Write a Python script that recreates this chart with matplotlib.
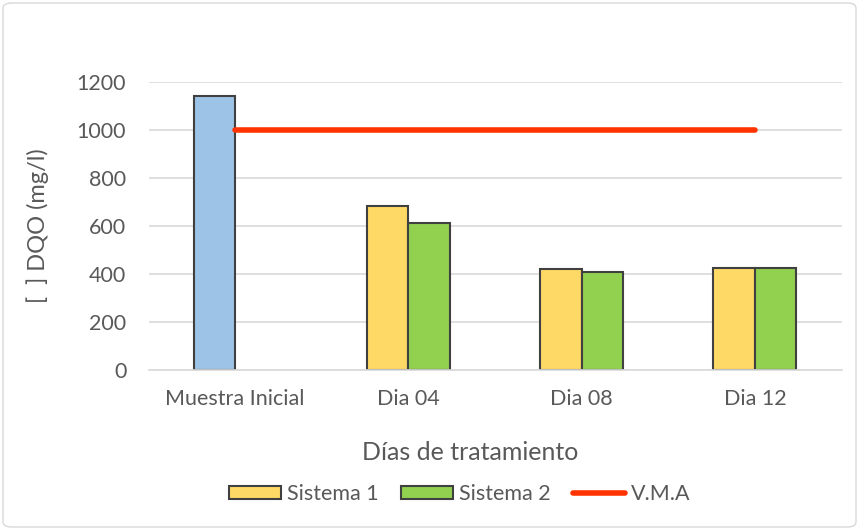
import matplotlib
matplotlib.use('Agg')
import matplotlib.pyplot as plt
import numpy as np
from matplotlib.patches import FancyBboxPatch

# Data
categories = ['Muestra Inicial', 'Dia 04', 'Dia 08', 'Dia 12']
muestra_inicial = [1140, np.nan, np.nan, np.nan]
sistema_1 = [np.nan, 683, 420, 425]
sistema_2 = [np.nan, 611, 410, 423]
vma = [1000, 1000, 1000, 1000]
y_ticks = [0, 200, 400, 600, 800, 1000, 1200]

plt.rcParams['font.family'] = ['Lato', 'DejaVu Sans']
text_color = '#595959'

fig = plt.figure(figsize=(8.59, 5.30), dpi=100)
ax = fig.add_axes([148.5 / 859, 1 - 370 / 530, (841.5 - 148.5) / 859, (370 - 82) / 530])

x = np.arange(len(categories))
w = 0.24
ax.bar(x - w / 2, muestra_inicial, w, color='#9DC3E6', edgecolor='#404040', linewidth=1.5)
ax.bar(x - w / 2, sistema_1, w, color='#FFD966', edgecolor='#404040', linewidth=1.5, label='Sistema 1')
ax.bar(x + w / 2, sistema_2, w, color='#92D050', edgecolor='#404040', linewidth=1.5, label='Sistema 2')
ax.plot(x, vma, color='#FF3300', linewidth=4, solid_capstyle='round', label='V.M.A', zorder=5)

ax.set_xlim(-0.5, len(categories) - 0.5)
ax.set_ylim(0, 1200)
ax.set_yticks(y_ticks)
ax.set_xticks(x)
ax.set_xticklabels(categories)
ax.yaxis.grid(True, color='#D9D9D9', linewidth=1.2)
ax.set_axisbelow(True)
for s in ['top', 'right', 'left']:
    ax.spines[s].set_visible(False)
ax.spines['bottom'].set_color('#D9D9D9')
ax.spines['bottom'].set_linewidth(1.2)
ax.tick_params(axis='both', length=0, labelsize=15.5, colors=text_color)
ax.tick_params(axis='y', pad=16)
ax.tick_params(axis='x', pad=14)

# centred on the whole chart rather than on the plot area
fig.text(470 / 859, 1 - 453 / 530, 'Días de tratamiento', fontsize=18, color=text_color,
         ha='center', va='center')
ax.set_ylabel('[  ] DQO (mg/l)', fontsize=17, color=text_color, labelpad=20)

handles, labels = ax.get_legend_handles_labels()
order = [1, 2, 0]
leg = fig.legend([handles[i] for i in order], [labels[i] for i in order], loc='center',
                 bbox_to_anchor=(460 / 859, 1 - 494 / 530),
                 ncol=3, frameon=False, fontsize=15.5, handlelength=2.4, handleheight=0.6,
                 columnspacing=1.05, handletextpad=0.28)
for t in leg.get_texts():
    t.set_color(text_color)

border = FancyBboxPatch((3 / 859, 3 / 530), 1 - 6 / 859, 1 - 6 / 530,
                        boxstyle='round,pad=0,rounding_size=0.01', transform=fig.transFigure,
                        facecolor='none', edgecolor='#D9D9D9', linewidth=1)
fig.patches.append(border)

fig.savefig('out.png', dpi=100)
